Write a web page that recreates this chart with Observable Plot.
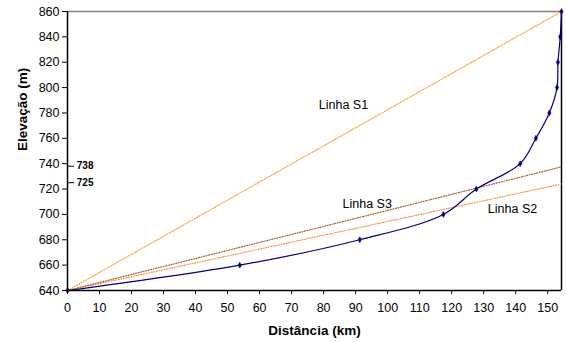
<!DOCTYPE html>
<html><head><meta charset="utf-8">
<script src="https://cdn.jsdelivr.net/npm/d3@7"></script>
<script src="https://cdn.jsdelivr.net/npm/@observablehq/plot@0.6"></script>
<style>body{margin:0;background:#fff;font-family:"Liberation Sans",Arial,sans-serif}</style>
</head><body><div id="chart"></div>
<script>
const distancia = [0, 53.8, 91.3, 117.4, 127.7, 141.4, 146.3, 150.5, 152.9, 153.2, 153.9, 154.3];
const elevacao = [640, 660, 680, 700, 720, 740, 760, 780, 800, 820, 840, 860];
const lineNames = ["Linha S1", "Linha S2", "Linha S3"];
const lineEndElev = [860, 724, 737.5];
const lineColors = ["#FFA033", "#FF8C42", "#A8582A"];
const labelX = [86.2, 139, 93.6];
const labelY = [786, 704, 708.5];
const refValues = [738, 725];
const xTicks = d3.range(0, 151, 10);
const yTicks = d3.range(640, 861, 20);
const xMax = 154.3;

const profile = distancia.map((d, i) => ({x: d, y: elevacao[i]}));
const lines = lineNames.flatMap((n, i) => [
  {name: n, x: 0, y: 640, c: lineColors[i]},
  {name: n, x: xMax, y: lineEndElev[i], c: lineColors[i]}
]);
const labels = lineNames.map((n, i) => ({name: n, x: labelX[i], y: labelY[i]}));

const chart = Plot.plot({
  width: 566,
  height: 342,
  marginLeft: 67,
  marginRight: 5,
  marginTop: 11,
  marginBottom: 52,
  style: {fontFamily: "'Liberation Sans', Arial, sans-serif", fontSize: "12.5px", background: "#fff", color: "#000"},
  x: {domain: [0, xMax], ticks: xTicks, label: null},
  y: {domain: [640, 860], ticks: yTicks, label: null},
  marks: [
    Plot.ruleY([860], {stroke: "#808080", strokeWidth: 1.5}),
    Plot.ruleX([xMax], {stroke: "#000", strokeWidth: 1.5}),
    Plot.line(lines, {x: "x", y: "y", z: "name", stroke: "c", strokeWidth: 1.2, strokeDasharray: "1,1.6"}),
    Plot.line(profile, {x: "x", y: "y", curve: "catmull-rom", stroke: "#000080", strokeWidth: 1.2}),
    Plot.dot(profile, {x: "x", y: "y", symbol: "diamond", r: 1.8, fill: "#000080", stroke: "#000080", strokeWidth: 0.5}),
    Plot.text(labels, {x: "x", y: "y", text: "name", fontSize: 12.5, fill: "#000"}),
    Plot.ruleY(refValues, {y: d => d, x1: 0, x2: 2.2, stroke: "#000", strokeWidth: 1}),
    Plot.text(refValues, {y: d => d, x: 2.9, text: d => String(d), textAnchor: "start", fontSize: 10, fontWeight: "bold", fill: "#000"}),
    Plot.ruleX([0], {stroke: "#000", strokeWidth: 1.5}),
    Plot.ruleY([640], {stroke: "#000", strokeWidth: 1.5}),
    Plot.axisX({ticks: xTicks, tickSize: 4, tickPadding: 9, label: null}),
    Plot.axisY({ticks: yTicks, tickSize: 5, tickPadding: 3, label: null}),
    Plot.text(["Distância (km)"], {frameAnchor: "bottom", dy: 44, fontWeight: "bold", fontSize: 13.5}),
    Plot.text(["Elevação (m)"], {frameAnchor: "left", dx: -45, rotate: -90, fontWeight: "bold", fontSize: 13.5})
  ]
});
document.getElementById("chart").appendChild(chart);
</script></body></html>
